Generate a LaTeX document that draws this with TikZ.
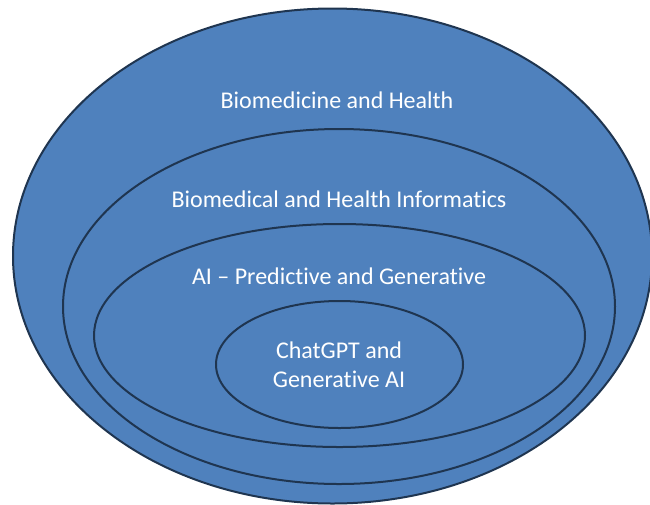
\documentclass[tikz,border=0pt]{standalone}
\usepackage{fontspec}
\setmainfont[Ligatures={NoCommon}]{Carlito}
\usetikzlibrary{shapes.geometric}
\definecolor{ringfill}{HTML}{4F81BD}
\definecolor{ringline}{HTML}{1F3550}
\begin{document}
\begin{tikzpicture}[x=1pt,y=-1pt,
  ring/.style={ellipse, draw=ringline, fill=ringfill, line width=2pt, inner sep=0pt},
  label/.style={text=white, font=\fontsize{24}{29}\selectfont, align=center, inner sep=0pt}]
  \useasboundingbox (0,0) rectangle (650,504);
  \clip (0,0) rectangle (650,504);
  % nested fields, outermost first
  \node[ring, minimum width=639pt, minimum height=495pt] (health) at (332.5,256) {};
  \node[ring, minimum width=552pt, minimum height=355pt] (informatics) at (339,306.5) {};
  \node[ring, minimum width=491pt, minimum height=223pt] (ai) at (339.5,335.5) {};
  \node[ring, minimum width=247pt, minimum height=127pt] (chatgpt) at (339.5,364.5) {};
  % captions
  \node[label] (healthtext) at (337,100) {Biomedicine and Health};
  \node[label] (informaticstext) at (339,199) {Biomedical and Health Informatics};
  \node[label] (aitext) at (339,276) {AI – Predictive and Generative};
  \node[label] (chatgpttext) at (339,365) {ChatGPT and\\Generative AI};
\end{tikzpicture}
\end{document}
